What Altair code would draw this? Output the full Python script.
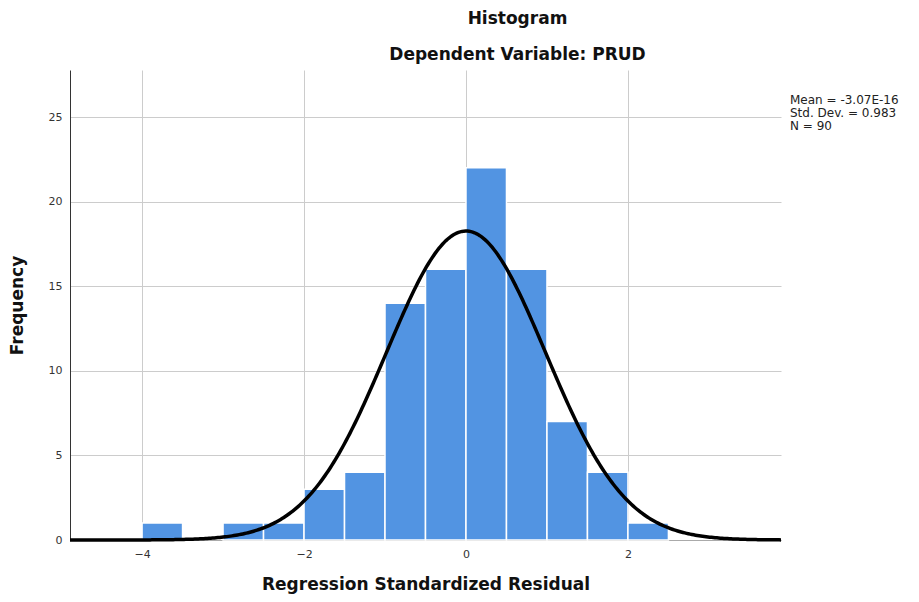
import altair as alt
import numpy as np
import pandas as pd

# Histogram bins (width 0.5) and frequencies
bin_start = [-4.0, -3.0, -2.5, -2.0, -1.5, -1.0, -0.5, 0.0, 0.5, 1.0, 1.5, 2.0]
bin_end = [-3.5, -2.5, -2.0, -1.5, -1.0, -0.5, 0.0, 0.5, 1.0, 1.5, 2.0, 2.5]
counts = [1, 1, 1, 3, 4, 14, 16, 22, 16, 7, 4, 1]

# Summary statistics shown on the chart
mean_val = -3.07e-16
sd_val = 0.983
n_val = 90
bin_width = 0.5

x_domain = [-4.89, 3.89]
y_domain = [0, 27.78]
x_ticks = [-4, -2, 0, 2]
y_ticks = [0, 5, 10, 15, 20, 25]

bars = pd.DataFrame({"start": bin_start, "end": bin_end, "count": counts})

# Fitted normal curve from the stated mean / SD / N
xs = np.linspace(x_domain[0], x_domain[1], 400)
ys = n_val * bin_width * np.exp(-0.5 * ((xs - mean_val) / sd_val) ** 2) / (sd_val * np.sqrt(2 * np.pi))
curve = pd.DataFrame({"x": xs, "y": ys})

stats_text = ["Mean = -3.07E-16", f"Std. Dev. = {sd_val}", f"N = {n_val}"]

FONT = "DejaVu Sans"

xscale = alt.Scale(domain=x_domain, nice=False, zero=False)
yscale = alt.Scale(domain=y_domain, nice=False)

xaxis = alt.Axis(values=x_ticks, format="d", title="Regression Standardized Residual", ticks=False,
                 labelPadding=8, titlePadding=17, domainColor="#aaaaaa", labelFontSize=11)
yaxis = alt.Axis(values=y_ticks, format="d", title="Frequency", ticks=False, labelPadding=8,
                 titlePadding=22, domainColor="#333333", labelFontSize=11)

hist = alt.Chart(bars).mark_rect(color="#5294e2", stroke="white", strokeWidth=1.5).encode(
    x=alt.X("start:Q", scale=xscale, axis=xaxis),
    x2="end:Q",
    y=alt.Y("count:Q", scale=yscale, axis=yaxis),
)

line = alt.Chart(curve).mark_line(color="black", strokeWidth=3.5).encode(
    x=alt.X("x:Q", scale=xscale),
    y=alt.Y("y:Q", scale=yscale),
)

txt = alt.Chart(pd.DataFrame({"t": [stats_text]})).mark_text(
    align="left", baseline="top", font=FONT, fontSize=12, color="#222222", lineHeight=13
).encode(
    x=alt.value(720), y=alt.value(25), text="t"
)

chart = alt.layer(hist, line, txt).properties(
    width=711,
    height=470,
    autosize=alt.AutoSizeParams(type="none"),
    padding={"left": 62, "top": 62, "right": 130, "bottom": 54},
    title=alt.TitleParams(
        text="Histogram",
        subtitle="Dependent Variable: PRUD",
        anchor="middle",
        dx=92,
        offset=6,
        fontSize=17,
        subtitleFontSize=17,
        fontWeight="bold",
        subtitleFontWeight="bold",
        font=FONT,
        subtitleFont=FONT,
        color="#111111",
        subtitleColor="#111111",
        subtitlePadding=19,
    ),
).configure_view(stroke=None).configure_axis(
    gridColor="#cccccc",
    gridWidth=1,
    labelFont=FONT,
    titleFont=FONT,
    titleFontSize=17,
    titleFontWeight="bold",
    titleColor="#111111",
    labelColor="#333333",
)

chart.save("out.html", embed_options={"renderer": "svg", "actions": False})
